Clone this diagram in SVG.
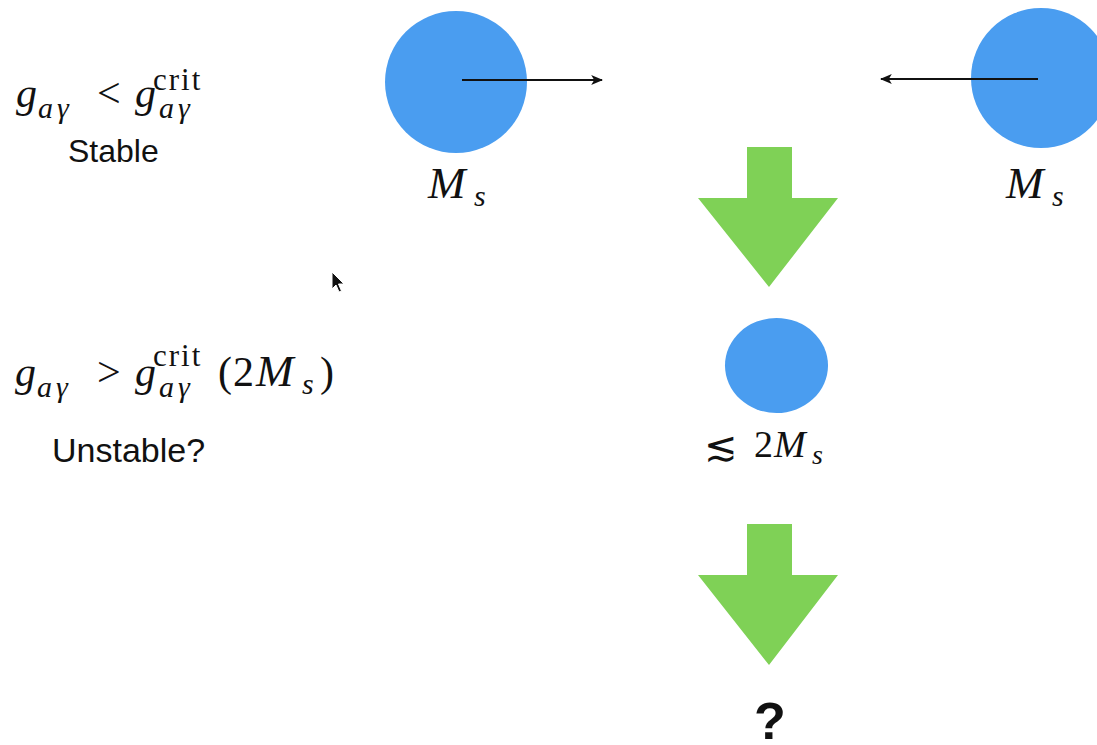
<svg xmlns="http://www.w3.org/2000/svg" width="1097" height="745" viewBox="0 0 1097 745">
  <style>
    .math { font-family: "Liberation Serif", "DejaVu Serif", serif; fill: #111; }
    .it { font-style: italic; }
    .sup { font-family: "Liberation Serif", "DejaVu Serif", serif; fill: #111; font-size: 31px; letter-spacing: 2px; }
    .label { font-family: "Liberation Sans", Arial, sans-serif; fill: #111; }
    .star { fill: #4a9df0; }
    .flow { fill: #7fd156; }
    .push { stroke: #111; stroke-width: 2; fill: none; }
  </style>
  <defs>
    <marker id="head" viewBox="0 0 10 10" refX="9" refY="5" markerWidth="6" markerHeight="6" orient="auto-start-reverse" markerUnits="strokeWidth">
      <path d="M0,0.8 L10,5 L0,9.2 L2.5,5 Z" fill="#111"/>
    </marker>
  </defs>
  <rect width="1097" height="745" fill="#ffffff"/>

  <!-- condition labels -->
  <g id="cond-stable">
    <text class="math" font-size="42" y="107">
      <tspan class="it" x="16">g</tspan>
      <tspan class="it" x="38" y="118" font-size="30">a</tspan>
      <tspan class="it" x="57" y="118" font-size="30">γ</tspan>
      <tspan x="97" y="107">&lt;</tspan>
      <tspan class="it" x="135">g</tspan>
      <tspan class="it" x="159" y="118" font-size="30">a</tspan>
      <tspan class="it" x="178" y="118" font-size="30">γ</tspan>
    </text>
    <text class="sup" x="153" y="90">crit</text>
    <text class="label" font-size="32" x="68" y="162">Stable</text>
  </g>

  <g id="cond-unstable">
    <text class="math" font-size="42" y="386">
      <tspan class="it" x="15">g</tspan>
      <tspan class="it" x="37" y="397" font-size="30">a</tspan>
      <tspan class="it" x="56" y="397" font-size="30">γ</tspan>
      <tspan x="97" y="386">&gt;</tspan>
      <tspan class="it" x="135">g</tspan>
      <tspan class="it" x="159" y="397" font-size="30">a</tspan>
      <tspan class="it" x="178" y="397" font-size="30">γ</tspan>
      <tspan x="218" y="386">(</tspan>
      <tspan x="233">2</tspan>
      <tspan class="it" x="256" font-size="45">M</tspan>
      <tspan class="it" x="302" y="394" font-size="30">s</tspan>
      <tspan x="320" y="386">)</tspan>
    </text>
    <text class="sup" x="153" y="366">crit</text>
    <text class="label" font-size="34" x="52" y="462">Unstable?</text>
  </g>

  <!-- two solitons moving toward each other -->
  <g id="star-left">
    <circle class="star" cx="456" cy="82" r="71"/>
    <text class="math it" font-size="45" x="428" y="198">M<tspan x="474" y="206" font-size="30">s</tspan></text>
  </g>
  <g id="star-right">
    <circle class="star" cx="1041" cy="78" r="70"/>
    <text class="math it" font-size="45" x="1006" y="198">M<tspan x="1052" y="206" font-size="30">s</tspan></text>
  </g>

  <!-- merged remnant -->
  <g id="star-merged">
    <ellipse class="star" cx="776.5" cy="365.5" rx="51.5" ry="47.5"/>
    <text class="math" font-size="40" x="704" y="460">≲</text>
    <text class="math" font-size="38" y="457">
      <tspan x="754">2</tspan>
      <tspan class="it" x="774">M</tspan>
      <tspan class="it" x="812" y="464" font-size="28">s</tspan>
    </text>
  </g>

  <g id="outcome">
    <text class="label" font-size="52" font-weight="bold" x="770" y="739" text-anchor="middle">?</text>
  </g>

  <!-- velocity arrows and process arrows -->
  <g id="connectors">
    <line class="push" x1="462" y1="80" x2="602" y2="80" marker-end="url(#head)"/>
    <line class="push" x1="1038" y1="79" x2="881" y2="79" marker-end="url(#head)"/>
    <polygon class="flow" points="747,147 792,147 792,198 838,198 769,287 698,198 747,198"/>
    <polygon class="flow" points="747,524 792,524 792,575 838,575 769,665 698,575 747,575"/>
  </g>

  <!-- mouse pointer -->
  <g id="pointer">
    <path d="M332,272 L332,289 L336,285 L339,292 L341.5,291 L338.5,284 L344,284 Z" fill="#111" stroke="#fff" stroke-width="1"/>
  </g>
</svg>
